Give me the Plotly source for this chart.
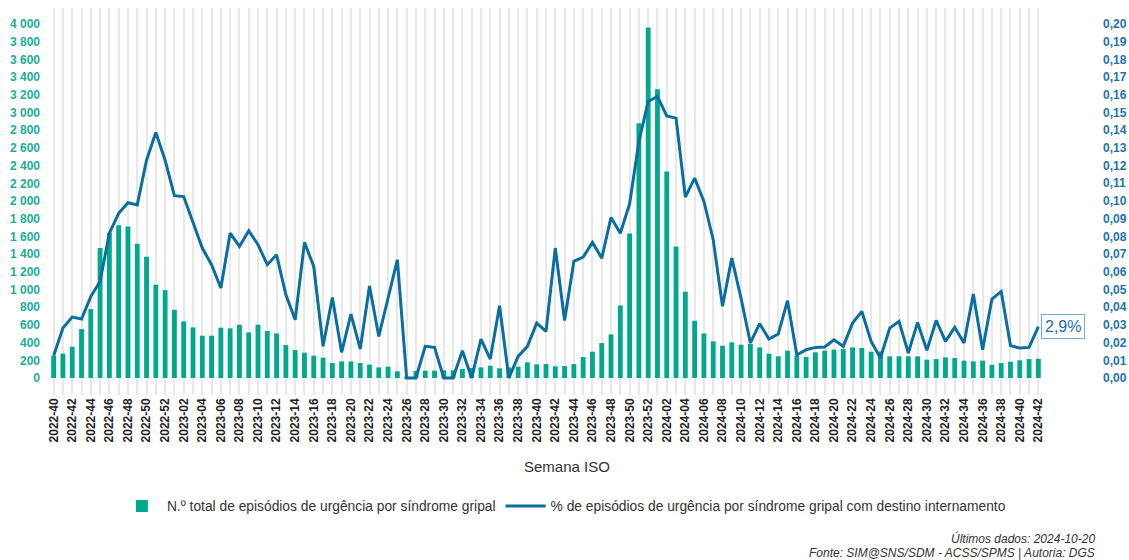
import plotly.graph_objects as go

# ---- data ----
start_year, start_week = 2022, 40
weeks_per_year = {2022: 52, 2023: 52, 2024: 52}
end_year, end_week = 2024, 42
semanas = []
y, w = start_year, start_week
while (y, w) <= (end_year, end_week):
    semanas.append(f"{y}-{w:02d}")
    w += 1
    if w > weeks_per_year[y]:
        y, w = y + 1, 1

episodios = [
    252, 275, 354, 553, 779, 1468, 1640, 1725, 1712, 1516, 1370, 1054, 993,
    771, 640, 572, 478, 478, 568, 561, 602, 515, 602, 531, 504, 373, 316, 286,
    252, 230, 169, 188, 188, 169, 152, 120, 128, 75, 15, 80, 83, 83, 87, 87,
    102, 113, 120, 139, 109, 120, 128, 177, 154, 158, 132, 135, 158, 237, 297,
    395, 493, 820, 1633, 2879, 3962, 3262, 2333, 1486, 975, 647, 504, 414, 365,
    403, 376, 385, 346, 275, 245, 309, 250, 237, 290, 309, 320, 327, 346, 339,
    297, 300, 245, 245, 245, 245, 207, 214, 233, 226, 196, 188, 196, 150, 169,
    184, 200, 214, 218,
]

pct_internamento = [
    0.0126, 0.0282, 0.0344, 0.0333, 0.046, 0.0546, 0.0818, 0.093, 0.099, 0.0978,
    0.123, 0.1387, 0.123, 0.103, 0.1025, 0.0884, 0.0734, 0.064, 0.0508, 0.0818,
    0.0743, 0.0832, 0.0753, 0.064, 0.0696, 0.047, 0.0329, 0.0766, 0.063, 0.0179,
    0.0455, 0.0145, 0.0361, 0.0164, 0.052, 0.0235, 0.045, 0.0668, 0.0, 0.0,
    0.0179, 0.0173, 0.0, 0.0, 0.0154, 0.0, 0.022, 0.0107, 0.0408, 0.0,
    0.0122, 0.0179, 0.031, 0.0263, 0.0734, 0.0325, 0.0659, 0.0683, 0.0766, 0.0677,
    0.0907, 0.0818, 0.0984, 0.1336, 0.1562, 0.159, 0.148, 0.1468, 0.1022, 0.1129,
    0.0997, 0.0781, 0.0405, 0.0677, 0.045, 0.0198, 0.0307, 0.022, 0.0248, 0.0437,
    0.013, 0.016, 0.0173, 0.0175, 0.0216, 0.0179, 0.031, 0.0376, 0.0207, 0.0113,
    0.0282, 0.032, 0.0141, 0.0314, 0.0156, 0.0325, 0.0207, 0.0286, 0.0198, 0.0474,
    0.016, 0.0446, 0.0489, 0.0183, 0.0169, 0.0173, 0.029,
]

left_ticks = list(range(0, 4001, 200))
right_ticks = [i / 100 for i in range(0, 21)]
right_tick_text = [f"{v:.2f}".replace(".", ",") for v in right_ticks]
tick_text = [s if i % 2 == 0 else "" for i, s in enumerate(semanas)]

nome_barras = "N.º total de episódios de urgência por síndrome gripal"
nome_linha = "% de episódios de urgência por síndrome gripal com destino internamento"
ultimo_label = "2,9%"

TEAL = "#00A88E"
BLUE = "#0B6EA2"
FONT = "Liberation Sans, Arial, sans-serif"

fig = go.Figure()
fig.add_trace(go.Bar(
    x=semanas, y=episodios, name=nome_barras,
    marker=dict(color=TEAL, line=dict(width=0)),
    yaxis="y",
))
fig.add_trace(go.Scatter(
    x=semanas, y=pct_internamento, name=nome_linha, mode="lines",
    line=dict(color=BLUE, width=3),
    yaxis="y2",
))

fig.add_annotation(
    x=semanas[-1], y=pct_internamento[-1], xref="x", yref="y2",
    text=ultimo_label, showarrow=False, xanchor="left", yanchor="middle",
    xshift=3, font=dict(size=16, color="#1F6FA3", family=FONT),
    bordercolor="#6FAED6", borderwidth=1, borderpad=3, bgcolor="white",
)
fig.add_annotation(
    x=0.521, y=-0.1835, xref="paper", yref="paper", xanchor="center", yanchor="middle",
    text="Semana ISO", showarrow=False,
    font=dict(size=15, color="#333333", family=FONT),
)
fig.add_annotation(
    x=1.054, y=-0.372, xref="paper", yref="paper", xanchor="right", yanchor="middle",
    text="<i>Últimos dados: 2024-10-20</i>", showarrow=False,
    font=dict(size=12, color="#333333", family=FONT),
)
fig.add_annotation(
    x=1.054, y=-0.407, xref="paper", yref="paper", xanchor="right", yanchor="middle",
    text="<i>Fonte: SIM@SNS/SDM - ACSS/SPMS | Autoria: DGS</i>", showarrow=False,
    font=dict(size=12, color="#333333", family=FONT),
)

fig.update_layout(
    width=1129, height=560,
    margin=dict(l=49, r=86, t=8, b=165, autoexpand=False),
    paper_bgcolor="white", plot_bgcolor="white",
    separators=", ",
    font=dict(family=FONT, color="#333333"),
    bargap=0.48,
    showlegend=True,
    legend=dict(
        orientation="h", x=0.518, xanchor="center", y=-0.287, yanchor="middle",
        font=dict(size=13.8, color="#333333", family=FONT),
        itemwidth=40,
    ),
    xaxis=dict(
        type="category", automargin=False,
        range=[-0.5, len(semanas) - 0.5],
        tickmode="array", tickvals=semanas, ticktext=tick_text,
        tickangle=-90,
        tickfont=dict(size=12, color="#222222", family=FONT, weight="bold"),
        showgrid=True, gridcolor="#E8E8E8", gridwidth=2,
        showline=False, zeroline=False, ticks="",
    ),
    yaxis=dict(
        automargin=False,
        range=[-192, 4181], tickmode="array", tickvals=left_ticks,
        tickformat=",d",
        tickfont=dict(size=12, color="#1AAE96", family=FONT, weight="bold"),
        showgrid=False, zeroline=False, showline=False, ticks="",
        ticklabelstandoff=8,
    ),
    yaxis2=dict(
        automargin=False,
        range=[-0.0096, 0.2090], tickmode="array", tickvals=right_ticks,
        ticktext=right_tick_text, overlaying="y", side="right",
        tickfont=dict(size=12, color="#1E74AE", family=FONT, weight="bold"),
        showgrid=False, zeroline=False, showline=False, ticks="",
        ticklabelstandoff=59,
    ),
)

fig.write_html(
    "out.html",
    config={"displayModeBar": False},
    post_script="document.body.style.margin='0';document.body.style.padding='0';",
)
